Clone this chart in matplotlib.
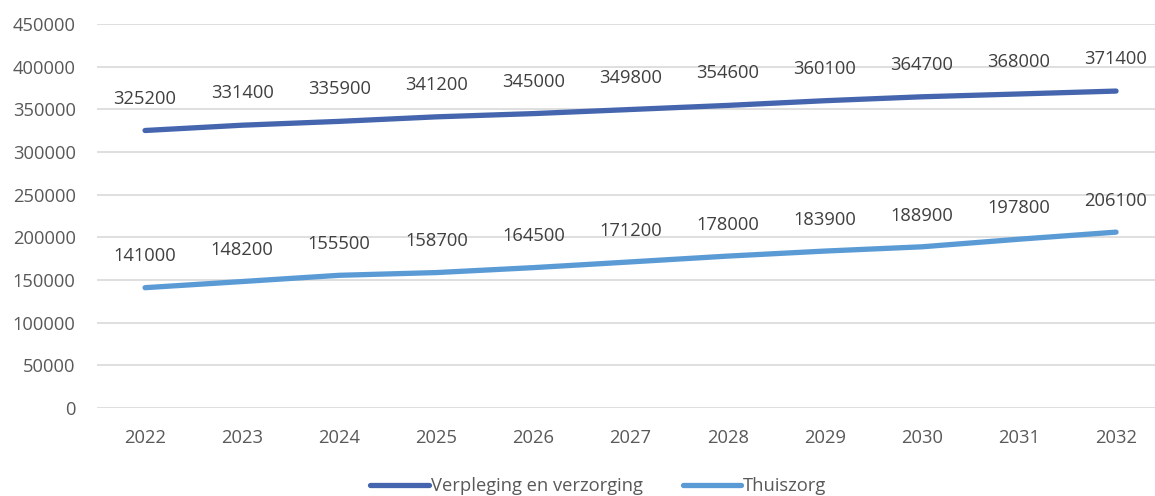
import matplotlib
matplotlib.use("Agg")
import matplotlib.pyplot as plt

years = ["2022", "2023", "2024", "2025", "2026", "2027", "2028", "2029", "2030", "2031", "2032"]
verpleging = [325200, 331400, 335900, 341200, 345000, 349800, 354600, 360100, 364700, 368000, 371400]
thuiszorg = [141000, 148200, 155500, 158700, 164500, 171200, 178000, 183900, 188900, 197800, 206100]
series_names = ["Verpleging en verzorging", "Thuiszorg"]
yticks = [0, 50000, 100000, 150000, 200000, 250000, 300000, 350000, 400000, 450000]

plt.rcParams['font.family'] = ['Open Sans', 'DejaVu Sans']

W, H = 1155, 496
fig = plt.figure(figsize=(W / 100, H / 100), dpi=100)
left = 96.5 / W
bottom = (H - 408) / H
top = (H - 24) / H
ax = fig.add_axes([left, bottom, 1 - left, top - bottom])

x = list(range(len(years)))
c1 = "#4566AE"
c2 = "#5B9BD5"
l1, = ax.plot(x, verpleging, color=c1, lw=3.8, solid_capstyle='round', label=series_names[0])
l2, = ax.plot(x, thuiszorg, color=c2, lw=3.8, solid_capstyle='round', label=series_names[1])

fs = 13.2
for xi, v in zip(x, verpleging):
    ax.annotate(f"{v}", (xi, v), xytext=(0, 23), textcoords='offset points',
                ha='center', va='center', fontsize=fs, color="#404040")
for xi, v in zip(x, thuiszorg):
    ax.annotate(f"{v}", (xi, v), xytext=(0, 22.5), textcoords='offset points',
                ha='center', va='center', fontsize=fs, color="#404040")

ax.set_ylim(0, 450000)
ax.set_xlim(-0.5, -0.5 + (W - 96.5) / 97.1)
ax.set_yticks(yticks)
ax.set_yticklabels([str(t) for t in yticks])
ax.set_xticks(x)
ax.set_xticklabels(years)
ax.tick_params(axis='both', length=0, labelsize=fs, colors="#595959")
ax.tick_params(axis='y', pad=15)
ax.tick_params(axis='x', pad=15)
ax.grid(axis='y', color="#D9D9D9", lw=1.2)
ax.set_axisbelow(True)
for s in ax.spines.values():
    s.set_visible(False)

fig.legend(handles=[l1, l2], loc='center', bbox_to_anchor=(0.518, 1 - 486 / H),
           ncol=2, frameon=False, fontsize=fs, handlelength=3.2, handletextpad=0.1,
           columnspacing=2.2, labelcolor="#595959")

fig.savefig("out.png", dpi=100)
